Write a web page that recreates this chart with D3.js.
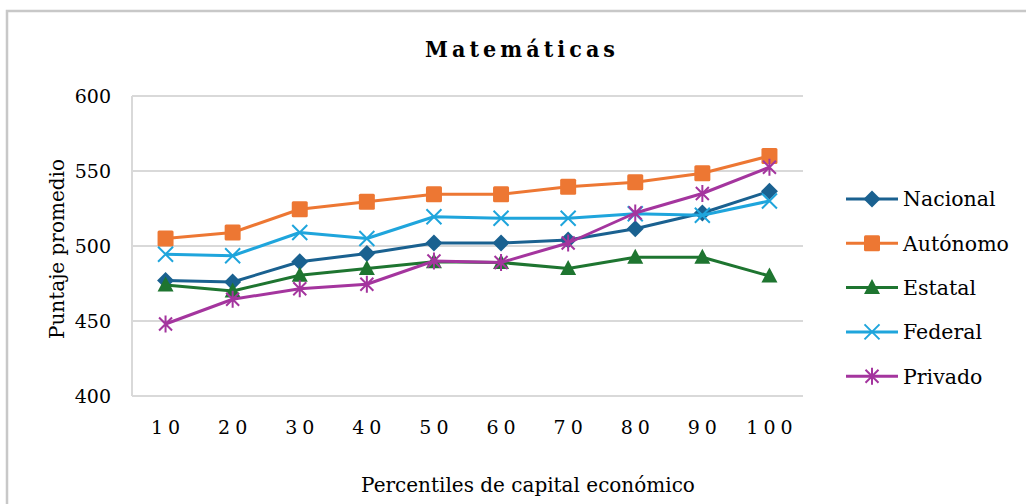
<!DOCTYPE html>
<html>
<head>
<meta charset="utf-8">
<script src="https://cdn.jsdelivr.net/npm/d3@7"></script>
<style>
  html, body { margin: 0; padding: 0; background: #fff; }
  svg { display: block; }
</style>
</head>
<body>
<svg id="chart" width="1026" height="504" font-family="'DejaVu Serif', serif"></svg>
<script>
// Percentiles of economic capital
const percentiles = ["10", "20", "30", "40", "50", "60", "70", "80", "90", "100"];

// Average score per school type
const nacional = [477, 476, 489.5, 495, 502, 502, 504, 511.5, 522, 536.5];
const autonomo = [505, 509, 524.5, 529.5, 534.5, 534.5, 539.5, 542.5, 548.5, 560];
const estatal  = [474, 470, 480.5, 485, 489.5, 489, 485, 492.5, 492.5, 480];
const federal  = [494.5, 493.5, 509, 505, 519.5, 518.5, 518.5, 521.5, 520.5, 530];
const privado  = [448, 464.5, 471.5, 474.5, 490, 489, 502, 522, 535, 552.5];

const seriesNames = ["Nacional", "Autónomo", "Estatal", "Federal", "Privado"];
const seriesValues = [nacional, autonomo, estatal, federal, privado];
const seriesColors = ["#1a6190", "#ed7733", "#1e7530", "#1fa5dc", "#a4359e"];
const seriesMarkers = ["diamond", "square", "triangle", "x", "star"];

const yTicks = [400, 450, 500, 550, 600];

const svg = d3.select("#chart");

// outer frame
svg.append("path")
  .attr("d", "M7,504 V11 H1026")
  .attr("fill", "none")
  .attr("stroke", "#c8c8c8")
  .attr("stroke-width", 2.5);

const plot = { left: 132, right: 803, top: 96, bottom: 396 };

const x = d3.scaleBand().domain(percentiles).range([plot.left, plot.right]);
const y = d3.scaleLinear().domain([400, 600]).range([plot.bottom, plot.top]);

// horizontal gridlines
svg.append("g")
  .selectAll("line")
  .data(yTicks)
  .join("line")
  .attr("x1", plot.left).attr("x2", plot.right)
  .attr("y1", d => y(d)).attr("y2", d => y(d))
  .attr("stroke", "#d9d9d9").attr("stroke-width", 2);

// left axis line
svg.append("line")
  .attr("x1", plot.left).attr("x2", plot.left)
  .attr("y1", plot.top).attr("y2", plot.bottom)
  .attr("stroke", "#d9d9d9").attr("stroke-width", 2);

// y tick labels
svg.append("g")
  .selectAll("text")
  .data(yTicks)
  .join("text")
  .attr("x", 111)
  .attr("y", d => y(d))
  .attr("dy", "0.36em")
  .attr("text-anchor", "end")
  .style("font-size", "19px")
  .text(d => d);

// x tick labels (letter-spaced)
const tickSpacing = 5;
svg.append("g")
  .selectAll("text")
  .data(percentiles)
  .join("text")
  .attr("x", d => x(d) + x.bandwidth() / 2 + tickSpacing / 2)
  .attr("y", 434)
  .attr("text-anchor", "middle")
  .style("font-size", "19px")
  .style("letter-spacing", tickSpacing + "px")
  .text(d => d);

// title
svg.append("text")
  .attr("x", 425)
  .attr("y", 57)
  .attr("textLength", 190)
  .attr("lengthAdjust", "spacing")
  .attr("font-family", "'DejaVu Serif Condensed', 'DejaVu Serif', serif")
  .style("font-size", "23px")
  .style("font-weight", "bold")
  .text("Matemáticas");

// axis titles
svg.append("text")
  .attr("transform", "translate(64,249) rotate(-90)")
  .attr("text-anchor", "middle")
  .style("font-size", "20px")
  .text("Puntaje promedio");

svg.append("text")
  .attr("x", 528)
  .attr("y", 492)
  .attr("text-anchor", "middle")
  .style("font-size", "20px")
  .text("Percentiles de capital económico");

// marker drawing
function drawMarker(g, type, color) {
  if (type === "diamond") {
    g.append("path").attr("d", "M0,-8.5 L8.5,0 L0,8.5 L-8.5,0 Z").attr("fill", color);
  } else if (type === "square") {
    g.append("rect").attr("x", -8).attr("y", -8).attr("width", 16).attr("height", 16)
      .attr("rx", 1.5).attr("fill", color);
  } else if (type === "triangle") {
    g.append("path").attr("d", "M0,-8.5 L8,6.5 L-8,6.5 Z").attr("fill", color);
  } else if (type === "x") {
    g.append("path").attr("d", "M-7.5,-7.5 L7.5,7.5 M-7.5,7.5 L7.5,-7.5")
      .attr("stroke", color).attr("stroke-width", 2).attr("fill", "none");
  } else if (type === "star") {
    g.append("path").attr("d", "M-6.5,-6.5 L6.5,6.5 M-6.5,6.5 L6.5,-6.5 M0,-8.5 V8.5")
      .attr("stroke", color).attr("stroke-width", 2).attr("fill", "none");
  }
}

const line = d3.line()
  .x((d, i) => x(percentiles[i]) + x.bandwidth() / 2)
  .y(d => y(d));

seriesValues.forEach((vals, si) => {
  const color = seriesColors[si];
  const g = svg.append("g");
  g.append("path")
    .attr("d", line(vals))
    .attr("fill", "none")
    .attr("stroke", color)
    .attr("stroke-width", 3)
    .attr("stroke-linejoin", "round");
  vals.forEach((v, i) => {
    const m = g.append("g")
      .attr("transform", `translate(${x(percentiles[i]) + x.bandwidth() / 2},${y(v)})`);
    drawMarker(m, seriesMarkers[si], color);
  });
});

// legend
const legend = svg.append("g");
seriesNames.forEach((name, i) => {
  const ly = 199 + i * 44.3;
  const lg = legend.append("g");
  lg.append("line")
    .attr("x1", 846).attr("x2", 898)
    .attr("y1", ly).attr("y2", ly)
    .attr("stroke", seriesColors[i]).attr("stroke-width", 3);
  const m = lg.append("g").attr("transform", `translate(872,${ly})`);
  drawMarker(m, seriesMarkers[i], seriesColors[i]);
  lg.append("text")
    .attr("x", 903)
    .attr("y", ly)
    .attr("dy", "0.36em")
    .style("font-size", "20.5px")
    .text(name);
});
</script>
</body>
</html>
